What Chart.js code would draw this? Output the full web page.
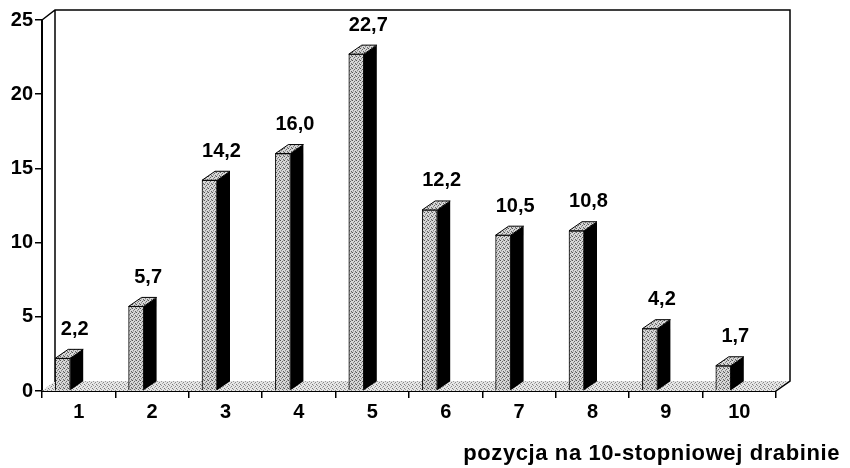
<!DOCTYPE html>
<html>
<head>
<meta charset="utf-8">
<script src="https://cdn.jsdelivr.net/npm/chart.js@4"></script>
<style>
  html, body { margin: 0; padding: 0; background: #fff; }
  canvas { display: block; }
</style>
</head>
<body>
<canvas id="chart" width="850" height="468"></canvas>
<script>
const categories = ['1', '2', '3', '4', '5', '6', '7', '8', '9', '10'];
const values = [2.2, 5.7, 14.2, 16.0, 22.7, 12.2, 10.5, 10.8, 4.2, 1.7];
const yMax = 25;
const yStep = 5;
const xTitle = 'pozycja na 10-stopniowej drabinie';

const FONT = 'Arial, "Liberation Sans", sans-serif';
const SHIFT = -16;   // bars sit behind the front axis, a bit to the left
const DEPTH_X = 13;
const DEPTH_Y = 9;

function makePattern(base, dots) {
  const c = document.createElement('canvas');
  c.width = 4; c.height = 4;
  const g = c.getContext('2d');
  g.fillStyle = base;
  g.fillRect(0, 0, 4, 4);
  dots.forEach(([x, y, col]) => { g.fillStyle = col; g.fillRect(x, y, 1, 1); });
  return g.createPattern(c, 'repeat');
}

const ctx = document.getElementById('chart').getContext('2d');
const frontFill = makePattern('#d8d8d8', [[0, 0, '#555'], [2, 1, '#666'], [1, 2, '#888'], [3, 3, '#666'], [3, 0, '#aaa'], [1, 3, '#bbb']]);
const floorFill = makePattern('#e6e6e6', [[0, 0, '#777'], [1, 1, '#999'], [3, 2, '#888'], [2, 3, '#aaa']]);

const fmt = v => v.toFixed(1).replace('.', ',');

const bar3d = {
  id: 'bar3d',
  beforeDatasetsDraw(chart) {
    const { ctx, chartArea: a } = chart;
    ctx.save();
    // floor
    ctx.beginPath();
    ctx.moveTo(a.left, a.bottom);
    ctx.lineTo(a.right, a.bottom);
    ctx.lineTo(a.right + DEPTH_X + 1, a.bottom - DEPTH_Y - 1);
    ctx.lineTo(a.left + DEPTH_X, a.bottom - DEPTH_Y - 1);
    ctx.closePath();
    ctx.fillStyle = floorFill;
    ctx.fill();
    // back wall frame
    ctx.strokeStyle = '#000';
    ctx.lineWidth = 1.5;
    ctx.beginPath();
    ctx.moveTo(a.left, a.top);
    ctx.lineTo(a.left + DEPTH_X, a.top - 10);
    ctx.lineTo(a.right + DEPTH_X + 1, a.top - 10);
    ctx.lineTo(a.right + DEPTH_X + 1, a.bottom - DEPTH_Y - 1);
    ctx.lineTo(a.right, a.bottom);
    ctx.moveTo(a.left + DEPTH_X, a.top - 10);
    ctx.lineTo(a.left + DEPTH_X, a.bottom - DEPTH_Y);
    ctx.stroke();
    ctx.restore();
    ctx.save();
    ctx.translate(SHIFT, 0);
  },
  afterDatasetsDraw(chart) {
    const { ctx } = chart;
    ctx.restore();
    const meta = chart.getDatasetMeta(0);
    ctx.save();
    ctx.lineWidth = 1;
    ctx.strokeStyle = '#000';
    meta.data.forEach((bar, i) => {
      const xl = bar.x - bar.width / 2 + SHIFT;
      const xr = bar.x + bar.width / 2 + SHIFT;
      const top = bar.y, base = bar.base;
      // side face
      ctx.beginPath();
      ctx.moveTo(xr, top);
      ctx.lineTo(xr + DEPTH_X, top - DEPTH_Y);
      ctx.lineTo(xr + DEPTH_X, base - DEPTH_Y);
      ctx.lineTo(xr, base);
      ctx.closePath();
      ctx.fillStyle = '#000';
      ctx.fill();
      // top face
      ctx.beginPath();
      ctx.moveTo(xl, top);
      ctx.lineTo(xr, top);
      ctx.lineTo(xr + DEPTH_X, top - DEPTH_Y);
      ctx.lineTo(xl + DEPTH_X, top - DEPTH_Y);
      ctx.closePath();
      ctx.fillStyle = frontFill;
      ctx.fill();
      ctx.stroke();
      // value label
      ctx.fillStyle = '#000';
      ctx.font = 'bold 20px ' + FONT;
      ctx.textAlign = 'center';
      ctx.textBaseline = 'middle';
      ctx.fillText(fmt(values[i]), bar.x + SHIFT + 12, top - 29);
    });
    ctx.restore();
  },
  afterDraw(chart) {
    const { ctx } = chart;
    ctx.save();
    ctx.fillStyle = '#000';
    ctx.font = 'bold 22px ' + FONT;
    ctx.letterSpacing = '0.6px';
    ctx.textAlign = 'right';
    ctx.textBaseline = 'alphabetic';
    ctx.fillText(xTitle, 840, 460);
    ctx.restore();
  }
};

new Chart(ctx, {
  type: 'bar',
  data: {
    labels: categories,
    datasets: [{
      data: values,
      backgroundColor: frontFill,
      borderColor: '#000',
      borderWidth: 1,
      barThickness: 15
    }]
  },
  options: {
    responsive: false,
    animation: false,
    layout: { padding: { top: 20, right: 74, left: 0, bottom: 0 } },
    plugins: { legend: { display: false }, tooltip: { enabled: false } },
    scales: {
      x: {
        grid: { drawOnChartArea: false, color: '#000', tickLength: 7, lineWidth: 1.5 },
        border: { color: '#000', width: 2 },
        ticks: { color: '#000', padding: 2, font: { size: 20, weight: 'bold', family: FONT } },
        afterFit: s => { s.height = 77; }
      },
      y: {
        min: 0,
        max: yMax,
        grid: { drawOnChartArea: false, color: '#000', tickLength: 7, lineWidth: 1.5 },
        border: { color: '#000', width: 2 },
        ticks: { stepSize: yStep, color: '#000', padding: 2, font: { size: 20, weight: 'bold', family: FONT } },
        afterFit: s => { s.width = 42; }
      }
    }
  },
  plugins: [bar3d]
});
</script>
</body>
</html>
